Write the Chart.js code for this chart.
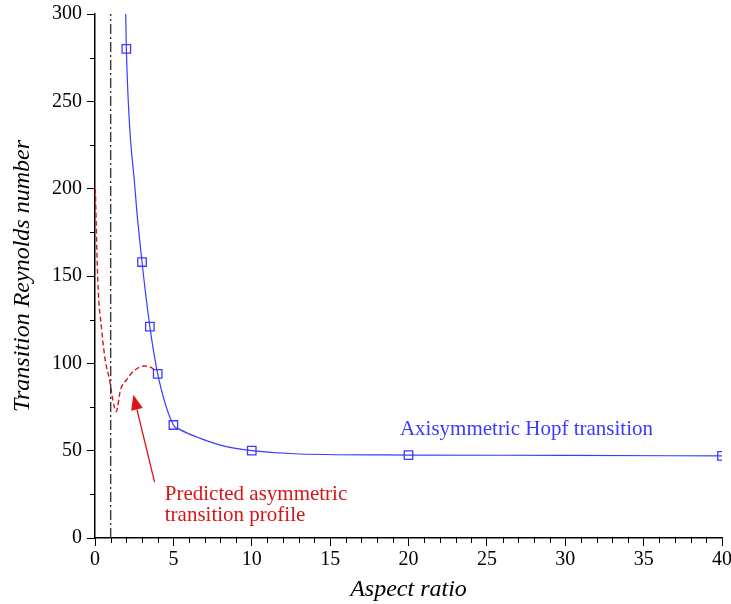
<!DOCTYPE html>
<html>
<head>
<meta charset="utf-8">
<script src="https://cdn.jsdelivr.net/npm/chart.js@4/dist/chart.umd.min.js"></script>
<style>
html, body { margin: 0; padding: 0; background: #fff; }
#contenedor { width: 731px; height: 604px; }
</style>
</head>
<body>
<div id="contenedor"><canvas id="grafico"></canvas></div>
<script>
// datos
const marcadoresX = [2, 3, 3.5, 4, 5, 10, 20, 40]
const marcadoresY = [280, 158, 121, 94, 64.7, 50, 47.5, 47]
// curva axisimétrica (suave, sin marcadores)
const curvaAxiX = [1.95, 2, 2.55, 3, 3.5, 4, 5, 5.4, 6.67, 8.38, 10, 13, 20, 30, 40]
const curvaAxiY = [305, 280, 200, 158, 121, 94, 64.7, 62.2, 57.2, 52.3, 50, 48.1, 47.5, 47.3, 47]
// curva asimétrica predicha (discontinua)
const curvaAsimX = [0.02, 0.18, 0.43, 0.65, 0.93, 1.14, 1.35, 1.63, 2.0, 2.52, 3.16, 3.69, 3.9]
const curvaAsimY = [200, 147, 119, 102, 90.4, 79, 72.3, 84.9, 90.4, 96, 98.5, 97, 95]
// línea vertical punto-raya
const lineaVerticalX = [1, 1]
const lineaVerticalY = [0, 300]
// flecha (inicio, punta)
const flechaX = [3.8, 2.45]
const flechaY = [32, 82]
// ticks
const ticksX = [0, 5, 10, 15, 20, 25, 30, 35, 40]
const ticksY = [0, 50, 100, 150, 200, 250, 300]

const azul = '#3b3bff'
const rojo = '#d81515'
const fuente = '"Liberation Serif", "Times New Roman", serif'

const aPuntos = (xs, ys) => xs.map((x, i) => ({ x, y: ys[i] }))

// ticks menores + flecha + textos
const extras = {
    id: 'extras',
    afterDatasetsDraw(chart) {
        const { ctx, scales: { x, y } } = chart
        ctx.save()
        ctx.strokeStyle = '#000'
        ctx.lineWidth = 1
        for (let v = 1; v < 40; v++) {
            if (v % 5 === 0) continue
            const px = Math.round(x.getPixelForValue(v)) + 0.5
            ctx.beginPath()
            ctx.moveTo(px, y.bottom)
            ctx.lineTo(px, y.bottom + 5)
            ctx.stroke()
        }
        for (let v = 25; v < 300; v += 50) {
            const py = Math.round(y.getPixelForValue(v)) + 0.5
            ctx.beginPath()
            ctx.moveTo(x.left, py)
            ctx.lineTo(x.left - 5, py)
            ctx.stroke()
        }

        // flecha
        const x0 = x.getPixelForValue(flechaX[0]), y0 = y.getPixelForValue(flechaY[0])
        const x1 = x.getPixelForValue(flechaX[1]), y1 = y.getPixelForValue(flechaY[1])
        const ang = Math.atan2(y1 - y0, x1 - x0)
        const largo = 15, ancho = 6
        const bx = x1 - largo * Math.cos(ang), by = y1 - largo * Math.sin(ang)
        ctx.strokeStyle = rojo
        ctx.fillStyle = rojo
        ctx.lineWidth = 1.3
        ctx.beginPath()
        ctx.moveTo(x0, y0)
        ctx.lineTo(bx, by)
        ctx.stroke()
        ctx.beginPath()
        ctx.moveTo(x1, y1)
        ctx.lineTo(bx + ancho * Math.sin(ang), by - ancho * Math.cos(ang))
        ctx.lineTo(bx - ancho * Math.sin(ang), by + ancho * Math.cos(ang))
        ctx.closePath()
        ctx.fill()

        // textos
        ctx.font = '21px ' + fuente
        ctx.textBaseline = 'alphabetic'
        ctx.textAlign = 'left'
        ctx.fillStyle = azul
        ctx.fillText('Axisymmetric Hopf transition', x.getPixelForValue(19.45), y.getPixelForValue(59))
        ctx.fillStyle = rojo
        ctx.fillText('Predicted asymmetric', x.getPixelForValue(4.45), y.getPixelForValue(21.75))
        ctx.fillText('transition profile', x.getPixelForValue(4.45), y.getPixelForValue(9.7))
        ctx.restore()
    }
}

new Chart(document.getElementById('grafico'), {
    type: 'scatter',
    data: {
        datasets: [{
            data: aPuntos(lineaVerticalX, lineaVerticalY),
            showLine: true,
            borderColor: '#3a3a3a',
            borderWidth: 1.4,
            borderDash: [10, 3, 2, 3],
            pointRadius: 0
        }, {
            data: aPuntos(curvaAsimX, curvaAsimY),
            showLine: true,
            borderColor: rojo,
            borderWidth: 1.4,
            borderDash: [5, 3],
            cubicInterpolationMode: 'monotone',
            pointRadius: 0
        }, {
            data: aPuntos(curvaAxiX, curvaAxiY),
            showLine: true,
            borderColor: azul,
            borderWidth: 1.2,
            cubicInterpolationMode: 'monotone',
            pointRadius: 0
        }, {
            data: aPuntos(marcadoresX, marcadoresY),
            showLine: false,
            pointStyle: 'rect',
            pointRadius: 6,
            pointBorderWidth: 1.3,
            pointBorderColor: azul,
            pointBackgroundColor: '#fff'
        }]
    },
    options: {
        responsive: true,
        maintainAspectRatio: false,
        animation: false,
        events: [],
        layout: { padding: { top: 14, right: 9, left: 4, bottom: 0 } },
        plugins: { legend: { display: false }, tooltip: { enabled: false } },
        scales: {
            x: {
                type: 'linear',
                min: 0,
                max: 40,
                afterBuildTicks: (s) => { s.ticks = ticksX.map(v => ({ value: v })) },
                afterFit: (s) => { s.height = 66; s.paddingLeft = 0; s.paddingRight = 0 },
                grid: { drawOnChartArea: false, drawTicks: true, tickLength: 8, tickColor: '#000', tickWidth: 1 },
                border: { display: true, color: '#000', width: 1.5 },
                ticks: { color: '#000', font: { family: fuente, size: 20 }, padding: 2, maxRotation: 0 },
                title: { display: true, text: 'Aspect ratio', color: '#000', font: { family: fuente, size: 24, style: 'italic' }, padding: { top: 2, bottom: 0 } }
            },
            y: {
                type: 'linear',
                min: 0,
                max: 300,
                afterBuildTicks: (s) => { s.ticks = ticksY.map(v => ({ value: v })) },
                afterFit: (s) => { s.width = 91; s.paddingTop = 0; s.paddingBottom = 0 },
                grid: { drawOnChartArea: false, drawTicks: true, tickLength: 8, tickColor: '#000', tickWidth: 1 },
                border: { display: true, color: '#000', width: 1.5 },
                ticks: { color: '#000', font: { family: fuente, size: 20 }, padding: 5 },
                title: { display: true, text: 'Transition Reynolds number', color: '#000', font: { family: fuente, size: 24, style: 'italic' }, padding: { bottom: 2 } }
            }
        }
    },
    plugins: [extras]
})
</script>
</body>
</html>
